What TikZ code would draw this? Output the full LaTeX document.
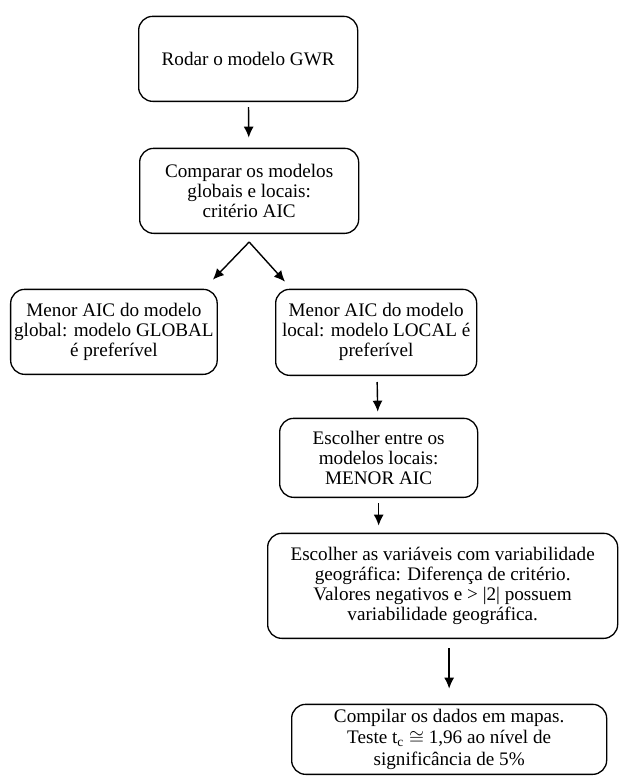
\documentclass[tikz,border=0pt]{standalone}
\usepackage{fontspec}
\setmainfont{Liberation Serif}
\usepackage{amsmath}
\usetikzlibrary{arrows.meta}

\begin{document}
\begin{tikzpicture}[
  etapa/.style={rectangle,draw=black,line width=.75pt,rounded corners=.28cm,align=center,inner sep=2pt,font=\fontsize{10.9}{11.4}\selectfont},
  seta/.style={line width=.8pt,-{Latex[length=2.2mm,width=2mm]}}]
    \useasboundingbox (0,0) rectangle (12.38,-15.52);

		% etapas
		\node[etapa,minimum height=1.70cm,minimum width=4.38cm,above right] (rodar) at (2.76,-2.04) {Rodar o modelo GWR};
		\node[etapa,minimum height=1.70cm,minimum width=4.38cm,above right] (comparar) at (2.78,-4.68) {Comparar os modelos\\globais e locais:\\critério AIC};
		\node[etapa,minimum height=1.70cm,minimum width=4.04cm,above right] (global) at (.20,-7.50) {Menor AIC do modelo\\global: modelo GLOBAL\\é preferível};
		\node[etapa,minimum height=1.72cm,minimum width=4.02cm,above right] (local) at (5.50,-7.52) {Menor AIC do modelo\\local: modelo LOCAL é\\preferível};
		\node[etapa,minimum height=1.58cm,minimum width=3.96cm,above right] (escolher) at (5.58,-9.96) {Escolher entre os\\modelos locais:\\MENOR AIC};
		\node[etapa,minimum height=2.10cm,minimum width=7.00cm,above right] (variaveis) at (5.34,-12.78) {Escolher as variáveis com variabilidade\\geográfica: Diferença de critério.\\Valores negativos e > |2| possuem\\variabilidade geográfica.};
		\node[etapa,minimum height=1.40cm,minimum width=6.30cm,above right,inner sep=1pt,font=\fontsize{10.9}{12.2}\selectfont] (mapas) at (5.82,-15.50) {Compilar os dados em mapas.\\Teste t\textsubscript{c} $\cong$ 1,96 ao nível de\\significância de 5\%};

		% setas
		\draw[seta,shorten <=.1cm,shorten >=.2cm] (rodar) -- (comparar);
		\draw[seta] ([yshift=-.16cm]comparar.south) -- ([xshift=-.1cm,yshift=.18cm]global.north east);
		\draw[seta] ([yshift=-.16cm]comparar.south) -- ([xshift=.2cm,yshift=.14cm]local.north west);
		\draw[seta,shorten <=.12cm,shorten >=.12cm] (local) -- (escolher);
		\draw[seta,shorten <=.1cm,shorten >=.14cm] (escolher.south) -- (escolher.south |- variaveis.north);
		\draw[seta,shorten <=.18cm,shorten >=.3cm] (mapas.north |- variaveis.south) -- (mapas.north);
\end{tikzpicture}
\end{document}
